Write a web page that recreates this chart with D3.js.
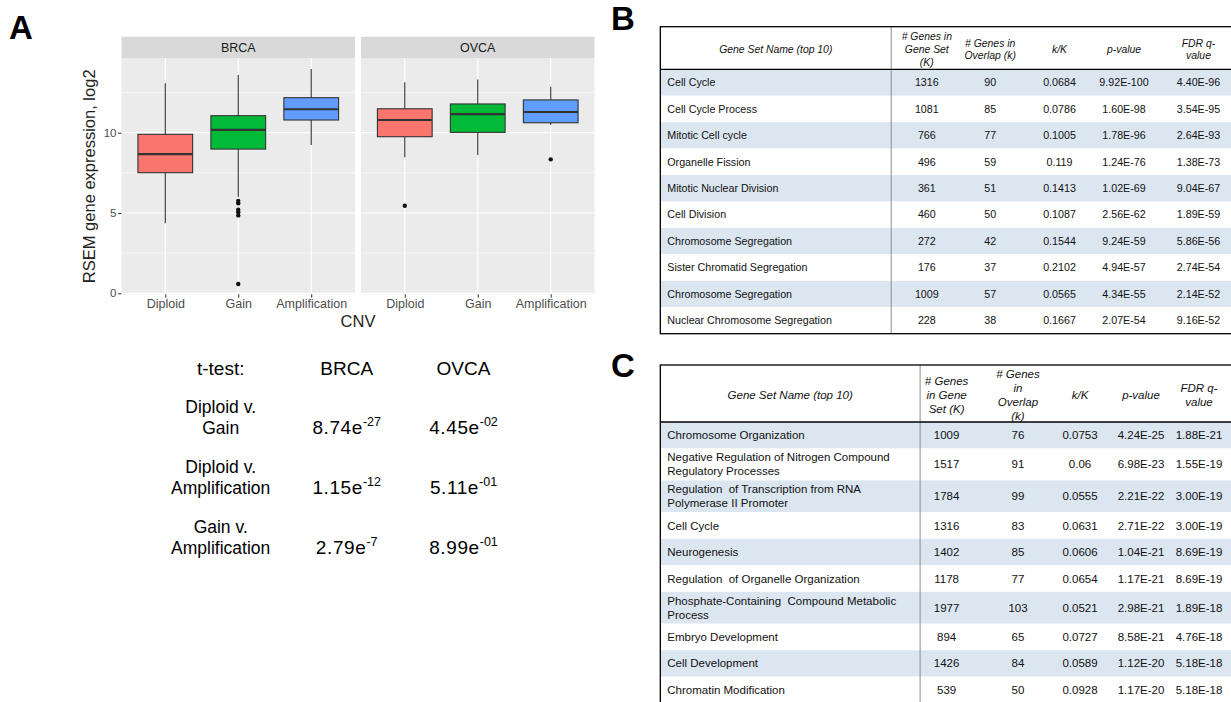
<!DOCTYPE html>
<html>
<head>
<meta charset="utf-8">
<script src="https://cdn.jsdelivr.net/npm/d3@7"></script>
<style>
  body { margin: 0; background: #fff; }
  svg { display: block; font-family: "Liberation Sans", Arial, sans-serif; }
</style>
</head>
<body>
<svg id="svg"></svg>
<script>
// ---------- data: box plot (panel A) ----------
const cancers = ['BRCA', 'OVCA']
const cnvLevels = ['Diploid', 'Gain', 'Amplification']
const cnvColors = ['#F8766D', '#00BA38', '#619CFF']
// [lower whisker, q1, median, q3, upper whisker]
const brcaBoxes = [[4.36, 7.51, 8.67, 9.90, 13.08], [6.0, 8.98, 10.17, 11.06, 13.59], [9.23, 10.79, 11.46, 12.18, 13.97]]
const brcaOutliers = [[], [5.75, 5.6, 5.2, 5.05, 4.85, 0.58], []]
const ovcaBoxes = [[8.47, 9.75, 10.79, 11.49, 13.14], [8.61, 10.02, 11.16, 11.79, 13.32], [10.48, 10.62, 11.29, 12.04, 12.86]]
const ovcaOutliers = [[5.45], [], [8.34]]
const yTicks = [0, 5, 10]
const yMinor = [2.5, 7.5, 12.5]

// ---------- data: t-test block ----------
const ttestHeader = ['t-test:', 'BRCA', 'OVCA']
const comparisons = [['Diploid v.', 'Gain'], ['Diploid v.', 'Amplification'], ['Gain v.', 'Amplification']]
const brcaP = [['8.74e', '-27'], ['1.15e', '-12'], ['2.79e', '-7']]
const ovcaP = [['4.45e', '-02'], ['5.11e', '-01'], ['8.99e', '-01']]

// ---------- data: table B ----------
const bHeader = [['Gene Set Name (top 10)'], ['# Genes in', 'Gene Set', '(K)'], ['# Genes in', 'Overlap (k)'], ['k/K'], ['p-value'], ['FDR q-', 'value']]
const bNames = [['Cell Cycle'], ['Cell Cycle Process'], ['Mitotic Cell cycle'], ['Organelle Fission'], ['Mitotic Nuclear Division'],
  ['Cell Division'], ['Chromosome Segregation'], ['Sister Chromatid Segregation'], ['Chromosome Segregation'], ['Nuclear Chromosome Segregation']]
const bK = ['1316', '1081', '766', '496', '361', '460', '272', '176', '1009', '228']
const bk = ['90', '85', '77', '59', '51', '50', '42', '37', '57', '38']
const bRatio = ['0.0684', '0.0786', '0.1005', '0.119', '0.1413', '0.1087', '0.1544', '0.2102', '0.0565', '0.1667']
const bP = ['9.92E-100', '1.60E-98', '1.78E-96', '1.24E-76', '1.02E-69', '2.56E-62', '9.24E-59', '4.94E-57', '4.34E-55', '2.07E-54']
const bFdr = ['4.40E-96', '3.54E-95', '2.64E-93', '1.38E-73', '9.04E-67', '1.89E-59', '5.86E-56', '2.74E-54', '2.14E-52', '9.16E-52']

// ---------- data: table C ----------
const cHeader = [['Gene Set Name (top 10)'], ['# Genes', 'in Gene', 'Set (K)'], ['# Genes', 'in', 'Overlap', '(k)'], ['k/K'], ['p-value'], ['FDR q-', 'value']]
const cNames = [['Chromosome Organization'], ['Negative Regulation of Nitrogen Compound', 'Regulatory Processes'],
  ['Regulation  of Transcription from RNA', 'Polymerase II Promoter'], ['Cell Cycle'], ['Neurogenesis'],
  ['Regulation  of Organelle Organization'], ['Phosphate-Containing  Compound Metabolic', 'Process'],
  ['Embryo Development'], ['Cell Development'], ['Chromatin Modification']]
const cK = ['1009', '1517', '1784', '1316', '1402', '1178', '1977', '894', '1426', '539']
const ck = ['76', '91', '99', '83', '85', '77', '103', '65', '84', '50']
const cRatio = ['0.0753', '0.06', '0.0555', '0.0631', '0.0606', '0.0654', '0.0521', '0.0727', '0.0589', '0.0928']
const cP = ['4.24E-25', '6.98E-23', '2.21E-22', '2.71E-22', '1.04E-21', '1.17E-21', '2.98E-21', '8.58E-21', '1.12E-20', '1.17E-20']
const cFdr = ['1.88E-21', '1.55E-19', '3.00E-19', '3.00E-19', '8.69E-19', '8.69E-19', '1.89E-18', '4.76E-18', '5.18E-18', '5.18E-18']

// ---------- svg ----------
const W = 1231, H = 702
let svg = d3.select('#svg').attr('width', W).attr('height', H)

// panel letters
svg.append('g').selectAll('text')
  .data([['A', 9, 39], ['B', 611, 30], ['C', 611, 377]])
  .join('text')
  .attr('x', d => d[1]).attr('y', d => d[2])
  .attr('font-size', 33).attr('font-weight', 'bold').attr('fill', '#000')
  .text(d => d[0])

/* ------------------------- panel A : box plot ------------------------- */
let y = d3.scaleLinear().domain([0, 10]).range([293.3, 132.7])
let panelTop = y(14.63), panelBottom = y(-0.06)
let facet = d3.scaleBand().domain(cancers).range([121.5, 594.5]).paddingInner(0.025)
let boxes = { BRCA: brcaBoxes, OVCA: ovcaBoxes }
let outliers = { BRCA: brcaOutliers, OVCA: ovcaOutliers }

let plot = svg.append('g')

cancers.forEach(c => {
  let x0 = facet(c), bw = facet.bandwidth()
  let x = d3.scalePoint().domain(cnvLevels).range([x0, x0 + bw]).padding(0.6)
  let boxW = x.step() * 0.75
  let g = plot.append('g')

  // background + strip
  g.append('rect').attr('x', x0).attr('y', panelTop).attr('width', bw).attr('height', panelBottom - panelTop).attr('fill', '#EBEBEB')
  g.append('rect').attr('x', x0).attr('y', 36.7).attr('width', bw).attr('height', panelTop - 36.7).attr('fill', '#D9D9D9')
  g.append('text').attr('x', x0 + bw / 2).attr('y', (36.7 + panelTop) / 2).attr('dy', '0.35em')
    .attr('text-anchor', 'middle').attr('font-size', 12.5).attr('fill', '#1A1A1A').text(c)

  // grid
  g.selectAll('.minor').data(yMinor).join('line')
    .attr('x1', x0).attr('x2', x0 + bw).attr('y1', d => y(d)).attr('y2', d => y(d))
    .attr('stroke', '#fff').attr('stroke-width', 0.6)
  g.selectAll('.major').data(yTicks).join('line')
    .attr('x1', x0).attr('x2', x0 + bw).attr('y1', d => y(d)).attr('y2', d => y(d))
    .attr('stroke', '#fff').attr('stroke-width', 1.2)
  g.selectAll('.vgrid').data(cnvLevels).join('line')
    .attr('x1', d => x(d)).attr('x2', d => x(d)).attr('y1', panelTop).attr('y2', panelBottom)
    .attr('stroke', '#fff').attr('stroke-width', 1.2)

  // boxes
  let bx = g.selectAll('.box').data(cnvLevels.map((lv, i) => ({ lv, i, s: boxes[c][i], o: outliers[c][i] })))
    .join('g')
  bx.append('line').attr('x1', d => x(d.lv)).attr('x2', d => x(d.lv))
    .attr('y1', d => y(d.s[4])).attr('y2', d => y(d.s[0]))
    .attr('stroke', '#333').attr('stroke-width', 1.1)
  bx.append('rect')
    .attr('x', d => x(d.lv) - boxW / 2).attr('width', boxW)
    .attr('y', d => y(d.s[3])).attr('height', d => y(d.s[1]) - y(d.s[3]))
    .attr('fill', d => cnvColors[d.i]).attr('stroke', '#333').attr('stroke-width', 1.1)
  bx.append('line')
    .attr('x1', d => x(d.lv) - boxW / 2).attr('x2', d => x(d.lv) + boxW / 2)
    .attr('y1', d => y(d.s[2])).attr('y2', d => y(d.s[2]))
    .attr('stroke', '#333').attr('stroke-width', 2.2)
  bx.selectAll('circle').data(d => d.o.map(v => ({ v, lv: d.lv }))).join('circle')
    .attr('cx', d => x(d.lv)).attr('cy', d => y(d.v)).attr('r', 2.2).attr('fill', '#111')

  // x axis
  let xAxis = g.append('g').attr('transform', `translate(0,${panelBottom})`)
    .call(d3.axisBottom(x).tickSize(3.5).tickPadding(1.5))
  xAxis.select('.domain').remove()
  xAxis.selectAll('line').attr('stroke', '#333')
  xAxis.selectAll('text').attr('font-size', 12.5).attr('fill', '#4D4D4D')
    .attr('font-family', '"Liberation Sans", Arial, sans-serif')
})

// y axis
let yAxis = plot.append('g').attr('transform', `translate(${facet('BRCA')},0)`)
  .call(d3.axisLeft(y).tickValues(yTicks).tickSize(3.5).tickPadding(1.5))
yAxis.select('.domain').remove()
yAxis.selectAll('line').attr('stroke', '#333')
yAxis.selectAll('text').attr('font-size', 11.5).attr('fill', '#4D4D4D')
  .attr('font-family', '"Liberation Sans", Arial, sans-serif')

// axis titles
plot.append('text').attr('transform', `translate(89,${(panelTop + panelBottom) / 2}) rotate(-90)`)
  .attr('dy', '0.35em').attr('text-anchor', 'middle').attr('font-size', 16.5).attr('fill', '#222')
  .text('RSEM gene expression, log2')
plot.append('text').attr('x', (121.5 + 594.5) / 2).attr('y', 327)
  .attr('text-anchor', 'middle').attr('font-size', 16.5).attr('fill', '#222').text('CNV')

/* ------------------------- t-test block ------------------------- */
let tt = svg.append('g').attr('fill', '#000')
let ttCol = [220.7, 346.7, 463.5]
let ttRow = d3.scaleLinear().domain([0, 1]).range([413.3, 473.3])
tt.selectAll('.hd').data(ttestHeader).join('text')
  .attr('x', (d, i) => ttCol[i]).attr('y', 375).attr('text-anchor', 'middle')
  .attr('font-size', 19).text(d => d)
comparisons.forEach((lines, i) => {
  tt.append('text').attr('text-anchor', 'middle').attr('font-size', 17.5)
    .selectAll('tspan').data(lines).join('tspan')
    .attr('x', ttCol[0]).attr('y', (d, j) => ttRow(i) + j * 20.7).text(d => d)
  ;[brcaP[i], ovcaP[i]].forEach((p, k) => {
    let t = tt.append('text').attr('x', ttCol[k + 1]).attr('y', ttRow(i) + 20.5)
      .attr('text-anchor', 'middle').attr('font-size', 19).attr('letter-spacing', 0.6)
    t.append('tspan').text(p[0])
    t.append('tspan').attr('font-size', 12.5).attr('dy', -7.5).attr('letter-spacing', 0).text(p[1])
  })
})

/* ------------------------- tables B and C ------------------------- */
function drawTable(o) {
  let g = svg.append('g')
  let rowH = o.names.map(n => n.length > 1 ? o.h2 : o.h1)
  let rowY = d3.cumsum([o.headerBottom].concat(rowH))
  let cols = [o.names, o.K, o.k, o.ratio, o.p, o.fdr]
  let bottom = rowY[rowY.length - 1]

  // row bands
  g.selectAll('.band').data(rowH).join('rect')
    .attr('x', o.left).attr('y', (d, i) => rowY[i]).attr('width', o.right - o.left).attr('height', d => d)
    .attr('fill', (d, i) => i % 2 === 0 ? '#DCE6F1' : '#fff')

  // header
  o.header.forEach((lines, ci) => {
    let cx = ci === 0 ? (o.left + o.sep) / 2 : o.centers[ci - 1]
    let mid = (o.top + o.headerBottom) / 2 + o.headShift
    g.append('text').attr('text-anchor', 'middle').attr('font-size', o.headSize)
      .attr('font-style', 'italic').attr('fill', '#111')
      .selectAll('tspan').data(lines).join('tspan')
      .attr('x', cx)
      .attr('y', (d, j) => mid + (j - (lines.length - 1) / 2) * o.headLine)
      .attr('dy', '0.35em').text(d => d)
  })

  // body
  cols.forEach((col, ci) => {
    col.forEach((v, ri) => {
      let mid = (rowY[ri] + rowY[ri + 1]) / 2
      let lines = Array.isArray(v) ? v : [v]
      g.append('text')
        .attr('text-anchor', ci === 0 ? 'start' : 'middle')
        .attr('font-size', o.bodySize).attr('fill', '#111').attr('xml:space', 'preserve')
        .selectAll('tspan').data(lines).join('tspan')
        .attr('x', ci === 0 ? o.left + 7 : o.centers[ci - 1])
        .attr('y', (d, j) => mid + (j - (lines.length - 1) / 2) * o.bodyLine)
        .attr('dy', '0.35em').text(d => d)
    })
  })

  // lines
  g.append('line').attr('x1', o.sep).attr('x2', o.sep).attr('y1', o.top).attr('y2', bottom)
    .attr('stroke', '#8c8c8c').attr('stroke-width', 1)
  g.append('line').attr('x1', o.left).attr('x2', o.right).attr('y1', o.headerBottom).attr('y2', o.headerBottom)
    .attr('stroke', '#000').attr('stroke-width', 1.3)
  g.append('rect').attr('x', o.left).attr('y', o.top).attr('width', o.right - o.left).attr('height', bottom - o.top)
    .attr('fill', 'none').attr('stroke', '#000').attr('stroke-width', 1.3)
}

drawTable({
  names: bNames, K: bK, k: bk, ratio: bRatio, p: bP, fdr: bFdr, header: bHeader,
  left: 660.3, right: 1260, sep: 891.2, top: 26.7, headerBottom: 69.3,
  h1: 26.44, h2: 26.44, centers: [926.8, 990.2, 1059.5, 1124, 1198.5],
  bodySize: 10.7, bodyLine: 13, headSize: 10.4, headLine: 12.7, headShift: 1.3
})

drawTable({
  names: cNames, K: cK, k: ck, ratio: cRatio, p: cP, fdr: cFdr, header: cHeader,
  left: 660.3, right: 1260, sep: 920.1, top: 365, headerBottom: 422,
  h1: 26.5, h2: 31.9, centers: [946.6, 1018, 1080, 1141, 1199],
  bodySize: 11.5, bodyLine: 14, headSize: 11.5, headLine: 14, headShift: 1
})
</script>
</body>
</html>
